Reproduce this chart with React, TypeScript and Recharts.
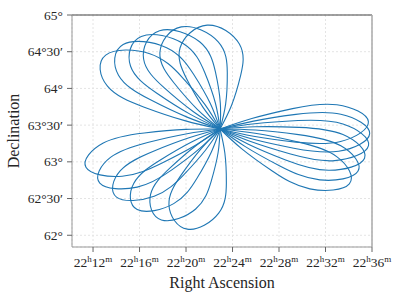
import { LineChart, Line, XAxis, YAxis, CartesianGrid, ReferenceLine } from 'recharts'

// ---------------------------------------------------------------------------
// Data (RA in minutes past 22h, Dec in degrees)
// ---------------------------------------------------------------------------
const centre: [number, number] = [22.93, 63.447]

// each lobe: points going out along one side, round the tip and back
const rightLobes: number[][][] = [
  [[25.66, 63.59], [29.17, 63.725], [32.98, 63.777], [35.69, 63.547], [33.3, 63.277], [29.45, 63.269], [25.81, 63.348]],
  [[25.81, 63.555], [29.45, 63.646], [33.32, 63.649], [35.8, 63.384], [33.13, 63.145], [29.27, 63.186], [25.71, 63.311]],
  [[25.91, 63.518], [29.64, 63.562], [33.5, 63.516], [35.7, 63.221], [32.79, 63.016], [28.99, 63.106], [25.56, 63.276]],
  [[25.96, 63.477], [29.71, 63.47], [33.5, 63.371], [35.36, 63.049], [32.25, 62.885], [28.57, 63.026], [25.36, 63.241]],
  [[25.97, 63.433], [29.68, 63.371], [33.32, 63.218], [34.79, 62.871], [31.51, 62.754], [28.03, 62.947], [25.1, 63.207]],
  [[25.94, 63.389], [29.56, 63.273], [32.99, 63.068], [34.05, 62.7], [30.65, 62.632], [27.42, 62.875], [24.8, 63.177]],
]

const upperLobes: number[][][] = [
  [[19.89, 63.561], [16.35, 63.748], [13.24, 64.031], [13.09, 64.454], [16.88, 64.473], [19.67, 64.152], [21.65, 63.776]],
  [[20.09, 63.609], [16.86, 63.851], [14.19, 64.18], [14.59, 64.597], [18.33, 64.554], [20.65, 64.193], [22.1, 63.791]],
  [[20.34, 63.65], [17.46, 63.938], [15.23, 64.302], [16.15, 64.707], [19.78, 64.608], [21.61, 64.216], [22.53, 63.798]],
  [[20.61, 63.685], [18.11, 64.01], [16.35, 64.401], [17.72, 64.786], [21.17, 64.635], [22.53, 64.224], [22.95, 63.799]],
  [[20.97, 63.716], [18.97, 64.074], [17.75, 64.485], [19.59, 64.838], [22.77, 64.635], [23.55, 64.212], [23.41, 63.79]],
  [[21.45, 63.745], [20.05, 64.131], [19.49, 64.554], [21.82, 64.862], [24.59, 64.604], [24.7, 64.177], [23.92, 63.771]],
]

const lowerLobes: number[][][] = [
  [[20.78, 63.222], [17.9, 62.981], [14.51, 62.804], [11.39, 62.926], [12.88, 63.256], [16.41, 63.393], [19.99, 63.442]],
  [[21.21, 63.187], [18.81, 62.894], [15.8, 62.656], [12.58, 62.711], [13.5, 63.06], [16.7, 63.264], [20.09, 63.383]],
  [[21.67, 63.158], [19.8, 62.824], [17.26, 62.531], [14.02, 62.52], [14.35, 62.879], [17.15, 63.142], [20.26, 63.328]],
  [[22.19, 63.138], [20.93, 62.772], [18.94, 62.431], [15.8, 62.351], [15.51, 62.709], [17.79, 63.026], [20.52, 63.274]],
  [[22.76, 63.127], [22.17, 62.738], [20.83, 62.358], [17.88, 62.209], [16.95, 62.556], [18.63, 62.918], [20.87, 63.223]],
  [[23.34, 63.12], [23.47, 62.715], [22.81, 62.301], [20.11, 62.083], [18.53, 62.411], [19.56, 62.815], [21.27, 63.174]],
]

const raTicks = [12, 16, 20, 24, 28, 32, 36]
const decTicks = [62, 62.5, 63, 63.5, 64, 64.5, 65]
const raDomain = [10.19, 36]
const decDomain = [61.84, 65]

// ---------------------------------------------------------------------------
// Helpers
// ---------------------------------------------------------------------------
const FONT = "'Liberation Serif', 'DejaVu Serif', serif"
const LINE = '#1f77b4'
const TEXT = '#262626'

const lobes = [...rightLobes, ...upperLobes, ...lowerLobes].map((pts) =>
  [centre, ...pts, centre].map(([ra, dec]) => ({ ra, dec }))
)

function RaTick({ x, y, payload }: any) {
  const m = String(payload.value)
  return (
    <text x={x} y={y + 13} textAnchor="middle" style={{ fontFamily: FONT }} fontSize={13.5} fill={TEXT}>
      <tspan>22</tspan>
      <tspan dy={-5} fontSize={9}>h</tspan>
      <tspan dy={5}>{m}</tspan>
      <tspan dy={-5} fontSize={9}>m</tspan>
    </text>
  )
}

function DecTick({ x, y, payload }: any) {
  const v = payload.value as number
  const deg = Math.floor(v)
  const label = v - deg > 0 ? `${deg}°30′` : `${deg}°`
  return (
    <text x={x} y={y + 4.5} textAnchor="end" style={{ fontFamily: FONT }} fontSize={13.5} fill={TEXT}>
      {label}
    </text>
  )
}

function XTitle() {
  return (
    <text x={222} y={288} textAnchor="middle" style={{ fontFamily: FONT }} fontSize={16} fill={TEXT}>
      Right Ascension
    </text>
  )
}

function YTitle() {
  return (
    <text
      x={19}
      y={131}
      transform="rotate(-90 19 131)"
      textAnchor="middle"
      style={{ fontFamily: FONT }}
      fontSize={16}
      fill={TEXT}
    >
      Declination
    </text>
  )
}

// ---------------------------------------------------------------------------
// Component
// ---------------------------------------------------------------------------
export default function App() {
  return (
    <div style={{ position: 'absolute', left: 0, top: 0, background: '#fff' }}>
      <LineChart width={399} height={299} margin={{ top: 15, right: 27, left: 0, bottom: 0 }}>
        <CartesianGrid stroke="#e4e4e4" strokeDasharray="2 2" />
        <XAxis
          type="number"
          dataKey="ra"
          domain={raDomain}
          ticks={raTicks}
          allowDataOverflow
          height={52}
          tickSize={5}
          tickMargin={2}
          stroke="#999"
          tickLine={{ stroke: '#666' }}
          tick={<RaTick />}
          label={<XTitle />}
        />
        <YAxis
          type="number"
          dataKey="dec"
          domain={decDomain}
          ticks={decTicks}
          allowDataOverflow
          width={72}
          tickSize={5}
          tickMargin={4}
          stroke="#999"
          tickLine={{ stroke: '#666' }}
          tick={<DecTick />}
          label={<YTitle />}
        />
        <ReferenceLine y={65} stroke="#444" strokeWidth={1.2} />
        <ReferenceLine x={36} stroke="#aaa" strokeWidth={1.5} />
        {lobes.map((pts, i) => (
          <Line
            key={`lobe-${i}`}
            data={pts}
            dataKey="dec"
            type="natural"
            stroke={LINE}
            strokeWidth={1.1}
            dot={false}
            activeDot={false}
            isAnimationActive={false}
          />
        ))}
      </LineChart>
    </div>
  )
}
